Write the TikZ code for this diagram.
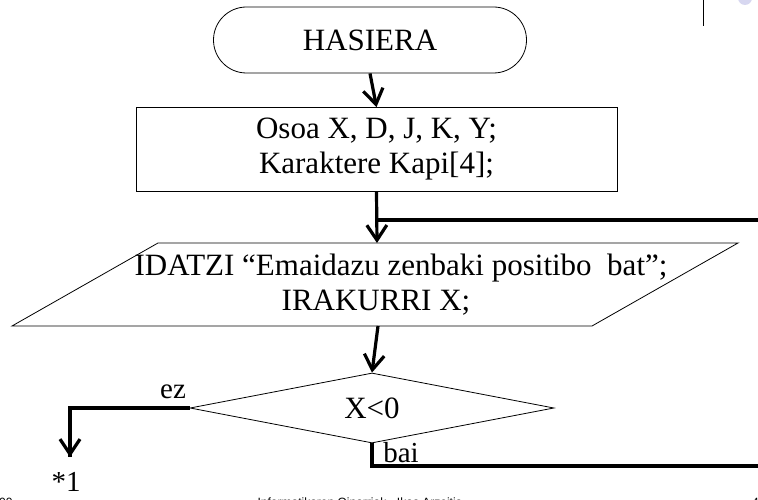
\documentclass[tikz,border=0pt]{standalone}
\usepackage{fontspec}
\setmainfont{Liberation Serif}
\setsansfont{Liberation Sans}
\usetikzlibrary{arrows.meta,shapes.geometric}
\definecolor{lavender}{RGB}{215,215,240}
\begin{document}
\begin{tikzpicture}[x=1pt,y=-1pt,
  box/.style={draw, line width=0.8pt, inner sep=0pt, align=center, font=\fontsize{31}{35}\selectfont},
  conn/.style={line width=3.2pt, -{Straight Barb[length=15pt,width=20pt]}},
  flow/.style={line width=3.2pt},
  txt/.style={inner sep=0pt, font=\fontsize{31}{35}\selectfont},
  lbl/.style={inner sep=0pt, font=\fontsize{29}{35}\selectfont},
  foot/.style={inner sep=0pt, font=\sffamily\fontsize{12}{14}\selectfont}]
\useasboundingbox (0,0) rectangle (758,500);
\clip (0,0) rectangle (758,500);
% slide decorations
\draw[line width=0.8pt] (703,0) -- (703,26);
\fill[lavender] (745,-2) circle (7);
% nodes
\node[box, rounded corners=33pt, minimum width=313pt, minimum height=66pt] (start) at (370,40) {HASIERA};
\node[box, minimum width=481pt, minimum height=84pt] (decl) at (376.5,149.5) {Osoa X, D, J, K, Y;\\Karaktere Kapi[4];};
\draw[line width=0.8pt] (158,243) -- (738,243) -- (592,326) -- (12,326) -- cycle;
\node[txt, anchor=base] (io1) at (401,275) {IDATZI “Emaidazu zenbaki positibo\ \ bat”;};
\node[txt, anchor=base] (io2) at (376,310) {IRAKURRI X;};
\coordinate (ioT) at (377,243);
\coordinate (ioB) at (378,326);
\node[box, diamond, aspect=5.2, minimum width=364pt, minimum height=70pt] (dec) at (372,408) {X<0};
\node[lbl] (ez) at (173,392) {ez};
\node[lbl] (bai) at (401,453) {bai};
\node[lbl] (s1) at (66,482) {*1};
% connectors
\draw[conn] (start.south) -- (decl.north);
\draw[conn] (decl.south) -- (ioT);
\coordinate (loopJ) at (377,220);
\coordinate (loopR) at (760,220);
\draw[flow] (loopR) -- (loopJ);
\draw[conn] (ioB) -- (dec.north);
\coordinate (ezC) at (70,408);
\coordinate (ezEnd) at (70,457);
\draw[flow, line join=miter] (dec.west) -- (ezC) -- (ezEnd);
\draw[conn] (70,430) -- (ezEnd);
\coordinate (baiR) at (760,466);
\draw[flow, line join=miter] (dec.south) |- (baiR);
% footer (cut off at the page edge, as in the reference)
\node[foot, anchor=base west] (f1) at (-1,506) {00};
\node[foot, anchor=base] (f2) at (360,506) {Informatikaren Oinarriak - Ikas Arzeitia};
\node[foot, anchor=base west] (f3) at (752,506) {4};
\end{tikzpicture}
\end{document}
